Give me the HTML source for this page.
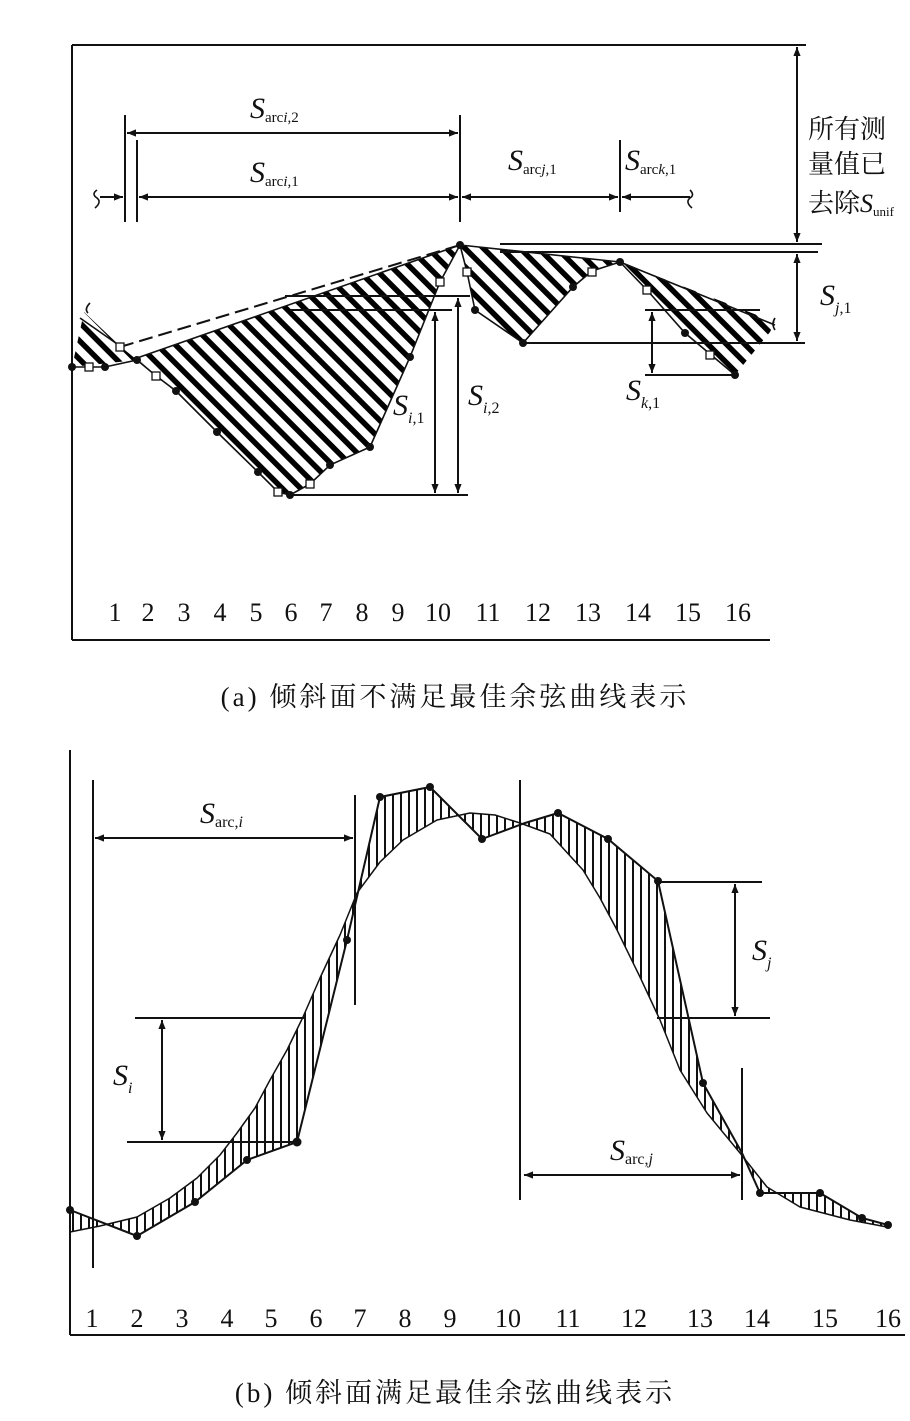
<!DOCTYPE html>
<html><head><meta charset="utf-8"><style>
html,body{margin:0;padding:0;background:#fff}
svg{display:block}
text{font-family:"Liberation Serif","Noto Serif CJK SC",serif;fill:#111}
.cj{font-family:"Liberation Serif","Noto Serif CJK SC","Noto Sans CJK SC",serif}
</style></head><body>
<svg width="910" height="1421" viewBox="0 0 910 1421" xmlns="http://www.w3.org/2000/svg">
<defs>
<pattern id="diag" width="13" height="13" patternUnits="userSpaceOnUse" patternTransform="rotate(45)">
<rect x="0" y="0" width="13" height="5.5" fill="#000"/>
</pattern>
<pattern id="vert" width="8" height="8" patternUnits="userSpaceOnUse">
<rect x="0" y="0" width="2" height="8" fill="#111"/>
</pattern>
<marker id="ah" viewBox="0 0 10 10" refX="10" refY="5" markerWidth="9" markerHeight="9" orient="auto-start-reverse" markerUnits="userSpaceOnUse">
<path d="M0,1 L10,5 L0,9 z" fill="#111"/>
</marker>
<clipPath id="cb"><path clip-rule="evenodd" d="M70,1210 L137,1236 L195,1202 L247,1160 L297,1142 L347,940 L380,797 L430,787 L482,839 L525,823 L558,813 L608,839 L658,881 L703,1083 L742,1153 L760,1193 L820,1193 L862,1218 L888,1225 L887,1227 850,1220 800,1207 767,1187 740,1153 707,1113 680,1070 660,1020 640,977 617,930 600,898 583,870 550,834 520,823 495,815 470,813 437,820 403,840 380,862 357,893 340,935 320,978 303,1017 287,1050 270,1080 255,1108 237,1133 220,1155 197,1178 170,1198 137,1217 100,1226 70,1232 Z"/></clipPath>
</defs>

<!-- ===== (a) ===== -->
<g stroke="#111" fill="none" stroke-width="2">
<line x1="72" y1="45" x2="72" y2="640"/>
<line x1="72" y1="45" x2="806" y2="45"/>
<line x1="72" y1="640" x2="770" y2="640"/>
</g>
<polygon points="84,312 120,346 137,360 72,367" fill="url(#diag)"/>
<polygon points="137,358 155,375 176,391 217,432 258,472 278,492 290,495 310,484 330,465 370,447 410,357 440,282 460,245" fill="url(#diag)"/>
<polygon points="460,245 467,272 475,310 523,343 573,287 592,271 620,262" fill="url(#diag)"/>
<polygon points="620,262 775,322 770,332 735,375 710,354 685,333 647,290" fill="url(#diag)"/>
<g stroke="#111" fill="none" stroke-width="1.6">
<polyline points="72,367 105,367 137,360 155,375 176,391 217,432 258,472 278,492 290,495 310,484 330,465 370,447 410,357 440,282 460,245 467,272 475,310 523,343 573,287 592,271 620,262 647,290 685,333 710,354 735,375"/>
<line x1="137" y1="358" x2="460" y2="245"/>
<line x1="120" y1="347" x2="460" y2="245" stroke-dasharray="14,6" stroke-width="2"/>
<line x1="460" y1="245" x2="620" y2="262"/>
<line x1="620" y1="262" x2="775" y2="325"/>
<line x1="80" y1="318" x2="120" y2="346"/>
<path d="M775,318 q-4,6 0,12" />
<path d="M90,303 q-6,6 -2,10"/>
<line x1="500" y1="244" x2="822" y2="244" stroke-width="2"/>
<line x1="500" y1="252" x2="818" y2="252" stroke-width="2"/>
<line x1="523" y1="343" x2="805" y2="343" stroke-width="2"/>
<line x1="645" y1="310" x2="760" y2="310" stroke-width="2"/>
<line x1="645" y1="375" x2="735" y2="375" stroke-width="2"/>
<line x1="285" y1="296" x2="470" y2="296" stroke-width="2"/>
<line x1="290" y1="310" x2="452" y2="310" stroke-width="2"/>
<line x1="290" y1="495" x2="468" y2="495" stroke-width="2"/>
<line x1="435" y1="312" x2="435" y2="493" stroke-width="2" marker-start="url(#ah)" marker-end="url(#ah)"/>
<line x1="458" y1="298" x2="458" y2="493" stroke-width="2" marker-start="url(#ah)" marker-end="url(#ah)"/>
<line x1="652" y1="312" x2="652" y2="373" stroke-width="2" marker-start="url(#ah)" marker-end="url(#ah)"/>
<line x1="797" y1="254" x2="797" y2="341" stroke-width="2" marker-start="url(#ah)" marker-end="url(#ah)"/>
<line x1="797" y1="47" x2="797" y2="242" stroke-width="2" marker-start="url(#ah)" marker-end="url(#ah)"/>
<line x1="125" y1="115" x2="125" y2="222" stroke-width="2"/>
<line x1="137" y1="140" x2="137" y2="222" stroke-width="2"/>
<line x1="460" y1="115" x2="460" y2="222" stroke-width="2"/>
<line x1="620" y1="140" x2="620" y2="212" stroke-width="2"/>
<line x1="127" y1="133" x2="458" y2="133" stroke-width="2" marker-start="url(#ah)" marker-end="url(#ah)"/>
<line x1="139" y1="197" x2="458" y2="197" stroke-width="2" marker-start="url(#ah)" marker-end="url(#ah)"/>
<line x1="462" y1="197" x2="618" y2="197" stroke-width="2" marker-start="url(#ah)" marker-end="url(#ah)"/>
<line x1="622" y1="197" x2="690" y2="197" stroke-width="2" marker-start="url(#ah)"/>
<line x1="100" y1="197" x2="123" y2="197" stroke-width="2" marker-end="url(#ah)"/>
<path d="M97,190 q-6,4 0,8 q5,4 -2,10"/>
<path d="M690,190 q5,5 0,8 q-5,4 2,10"/>
</g>
<g fill="#111">
<circle cx="72" cy="367" r="4"/><circle cx="105" cy="367" r="4"/><circle cx="137" cy="360" r="4"/>
<circle cx="176" cy="391" r="4"/><circle cx="217" cy="432" r="4"/><circle cx="258" cy="472" r="4"/>
<circle cx="290" cy="495" r="4"/><circle cx="330" cy="465" r="4"/><circle cx="370" cy="447" r="4"/>
<circle cx="410" cy="357" r="4"/><circle cx="460" cy="245" r="4"/><circle cx="475" cy="310" r="4"/>
<circle cx="523" cy="343" r="4"/><circle cx="573" cy="287" r="4"/><circle cx="620" cy="262" r="4"/>
<circle cx="685" cy="333" r="4"/><circle cx="735" cy="375" r="4"/>
</g>
<g fill="#fff" stroke="#111" stroke-width="1.3">
<rect x="85" y="363" width="8" height="8"/><rect x="116" y="343" width="8" height="8"/>
<rect x="152" y="372" width="8" height="8"/><rect x="274" y="488" width="8" height="8"/>
<rect x="306" y="480" width="8" height="8"/><rect x="436" y="278" width="8" height="8"/>
<rect x="463" y="268" width="8" height="8"/><rect x="588" y="268" width="8" height="8"/>
<rect x="643" y="286" width="8" height="8"/><rect x="706" y="351" width="8" height="8"/>
</g>
<g font-style="italic" font-size="30">
<text x="250" y="118">S<tspan font-size="15" font-style="normal" dy="4">arc</tspan><tspan font-size="15" dy="0">i</tspan><tspan font-size="15" font-style="normal">,2</tspan></text>
<text x="250" y="182">S<tspan font-size="15" font-style="normal" dy="4">arc</tspan><tspan font-size="15">i</tspan><tspan font-size="15" font-style="normal">,1</tspan></text>
<text x="508" y="170">S<tspan font-size="15" font-style="normal" dy="4">arc</tspan><tspan font-size="15">j</tspan><tspan font-size="15" font-style="normal">,1</tspan></text>
<text x="625" y="170">S<tspan font-size="15" font-style="normal" dy="4">arc</tspan><tspan font-size="15">k</tspan><tspan font-size="15" font-style="normal">,1</tspan></text>
<text x="393" y="415">S<tspan font-size="16" dy="8">i</tspan><tspan font-size="16" font-style="normal">,1</tspan></text>
<text x="468" y="405">S<tspan font-size="16" dy="8">i</tspan><tspan font-size="16" font-style="normal">,2</tspan></text>
<text x="626" y="400">S<tspan font-size="16" dy="8">k</tspan><tspan font-size="16" font-style="normal">,1</tspan></text>
<text x="820" y="305">S<tspan font-size="16" dy="8">j</tspan><tspan font-size="16" font-style="normal">,1</tspan></text>
</g>
<g class="cj" font-size="26">
<text class="cj" x="808" y="138">所有测</text>
<text class="cj" x="808" y="173">量值已</text>
<text class="cj" x="808" y="212">去除<tspan font-style="italic" font-family="Liberation Serif">S</tspan><tspan font-size="13" dy="4">unif</tspan></text>
</g>
<g font-size="26" text-anchor="middle">
<text x="115" y="621">1</text><text x="148" y="621">2</text><text x="184" y="621">3</text><text x="220" y="621">4</text>
<text x="256" y="621">5</text><text x="291" y="621">6</text><text x="326" y="621">7</text><text x="362" y="621">8</text>
<text x="398" y="621">9</text><text x="438" y="621">10</text><text x="488" y="621">11</text><text x="538" y="621">12</text>
<text x="588" y="621">13</text><text x="638" y="621">14</text><text x="688" y="621">15</text><text x="738" y="621">16</text>
</g>
<text class="cj" x="455" y="706" font-size="27" text-anchor="middle" letter-spacing="3">(a) 倾斜面不满足最佳余弦曲线表示</text>

<!-- ===== (b) ===== -->
<g stroke="#111" fill="none" stroke-width="2">
<line x1="70" y1="750" x2="70" y2="1335"/>
<line x1="70" y1="1335" x2="905" y2="1335"/>
</g>
<rect x="60" y="780" width="840" height="470" fill="url(#vert)" clip-path="url(#cb)"/>
<g stroke="#111" fill="none">
<polyline stroke-width="2" points="70,1210 137,1236 195,1202 247,1160 297,1142 347,940 380,797 430,787 482,839 525,823 558,813 608,839 658,881 703,1083 742,1153 760,1193 820,1193 862,1218 888,1225"/>
<polyline stroke-width="1.5" stroke-linejoin="round" points="70,1232 100,1226 137,1217 170,1198 197,1178 220,1155 237,1133 255,1108 270,1080 287,1050 303,1017 320,978 340,935 357,893 380,862 403,840 437,820 470,813 495,815 520,823 550,834 583,870 600,898 617,930 640,977 660,1020 680,1070 707,1113 740,1153 767,1187 800,1207 850,1220 887,1227"/>
<g stroke-width="2">
<line x1="93" y1="780" x2="93" y2="1268"/>
<line x1="355" y1="795" x2="355" y2="1005"/>
<line x1="520" y1="780" x2="520" y2="1200"/>
<line x1="742" y1="1068" x2="742" y2="1200"/>
<line x1="95" y1="838" x2="353" y2="838" marker-start="url(#ah)" marker-end="url(#ah)"/>
<line x1="524" y1="1175" x2="740" y2="1175" marker-start="url(#ah)" marker-end="url(#ah)"/>
<line x1="135" y1="1018" x2="305" y2="1018"/>
<line x1="127" y1="1142" x2="297" y2="1142"/>
<line x1="162" y1="1020" x2="162" y2="1140" marker-start="url(#ah)" marker-end="url(#ah)"/>
<line x1="660" y1="882" x2="762" y2="882"/>
<line x1="657" y1="1018" x2="770" y2="1018"/>
<line x1="735" y1="884" x2="735" y2="1016" marker-start="url(#ah)" marker-end="url(#ah)"/>
</g>
</g>
<g fill="#111">
<circle cx="70" cy="1210" r="4"/><circle cx="137" cy="1236" r="4"/><circle cx="195" cy="1202" r="4"/>
<circle cx="247" cy="1160" r="4"/><circle cx="297" cy="1142" r="4.5"/><circle cx="347" cy="940" r="4"/>
<circle cx="380" cy="797" r="4"/><circle cx="430" cy="787" r="4"/><circle cx="482" cy="839" r="4"/>
<circle cx="558" cy="813" r="4"/><circle cx="608" cy="839" r="4"/><circle cx="658" cy="881" r="4"/>
<circle cx="703" cy="1083" r="4"/><circle cx="760" cy="1193" r="4"/><circle cx="820" cy="1193" r="4"/>
<circle cx="862" cy="1218" r="4"/><circle cx="888" cy="1225" r="4"/>
</g>
<g font-style="italic" font-size="30">
<text x="200" y="823">S<tspan font-size="16" font-style="normal" dy="4">arc,</tspan><tspan font-size="16">i</tspan></text>
<text x="610" y="1160">S<tspan font-size="16" font-style="normal" dy="4">arc,</tspan><tspan font-size="16">j</tspan></text>
<text x="113" y="1085">S<tspan font-size="16" dy="8">i</tspan></text>
<text x="752" y="960">S<tspan font-size="16" dy="8">j</tspan></text>
</g>
<g font-size="26" text-anchor="middle">
<text x="92" y="1327">1</text><text x="137" y="1327">2</text><text x="182" y="1327">3</text><text x="227" y="1327">4</text>
<text x="271" y="1327">5</text><text x="316" y="1327">6</text><text x="360" y="1327">7</text><text x="405" y="1327">8</text>
<text x="450" y="1327">9</text><text x="508" y="1327">10</text><text x="568" y="1327">11</text><text x="634" y="1327">12</text>
<text x="700" y="1327">13</text><text x="757" y="1327">14</text><text x="825" y="1327">15</text><text x="888" y="1327">16</text>
</g>
<text class="cj" x="455" y="1402" font-size="27" text-anchor="middle" letter-spacing="3">(b) 倾斜面满足最佳余弦曲线表示</text>
</svg>
</body></html>
